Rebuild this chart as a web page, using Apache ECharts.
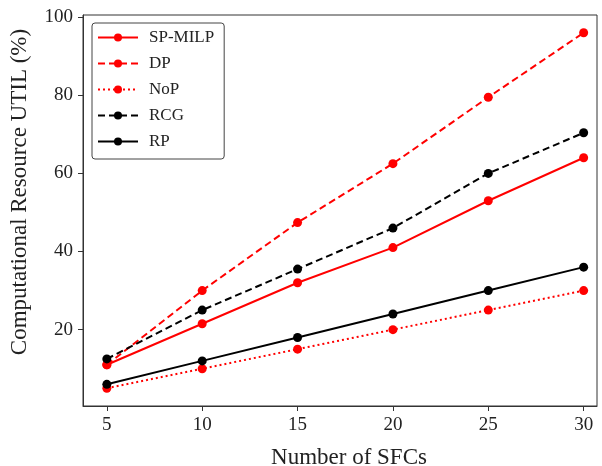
<!DOCTYPE html>
<html>
<head>
<meta charset="utf-8">
<script src="https://cdn.jsdelivr.net/npm/echarts@6/dist/echarts.min.js"></script>
<style>
  html, body { margin: 0; padding: 0; background: #fff; }
  #main { width: 602px; height: 466px; }
</style>
</head>
<body>
<div id="main"></div>
<script>
// x: number of SFCs
var sfcs = [5, 10, 15, 20, 25, 30];
// computational resource utilisation (%)
var spMilp = [11, 21.5, 32, 41, 53, 64];
var dp = [11, 30, 47.4, 62.5, 79.5, 96];
var noP = [5, 10, 15, 20, 25, 30];
var rcg = [12.5, 25, 35.5, 46, 60, 70.4];
var rp = [6, 12, 18, 24, 30, 36];
var xTicks = [5, 10, 15, 20, 25, 30];
var yTicks = [20, 40, 60, 80, 100];

function pairs(vals) {
    var out = [];
    for (var i = 0; i < sfcs.length; i++) {
        out.push([sfcs[i], vals[i]]);
    }
    return out;
}

var font = '"Liberation Serif", "DejaVu Serif", serif';

function mkSeries(name, vals, color, type) {
    return {
        name: name,
        type: 'line',
        data: pairs(vals),
        symbol: 'circle',
        symbolSize: 9,
        itemStyle: {color: color},
        lineStyle: {color: color, width: 2, type: type},
        emphasis: {disabled: true},
        animation: false
    };
}

var chart = echarts.init(document.getElementById('main'));
var option = {
    backgroundColor: '#fff',
    grid: {
        left: 83,
        right: 5,
        top: 15,
        bottom: 60,
        outerBoundsMode: 'none',
        show: true,
        borderColor: '#333',
        borderWidth: 1
    },
    legend: {
        orient: 'vertical',
        left: 92,
        top: 23,
        itemWidth: 40,
        itemHeight: 10,
        itemGap: 9,
        padding: [6, 10, 9, 5],
        borderColor: '#444',
        borderWidth: 1,
        borderRadius: 3,
        textStyle: {fontFamily: font, fontSize: 17, color: '#222', padding: [0, 0, 0, 6]},
        data: ['SP-MILP', 'DP', 'NoP', 'RCG', 'RP']
    },
    xAxis: {
        type: 'value',
        min: 3.75,
        max: 30.7,
        name: 'Number of SFCs',
        nameLocation: 'middle',
        nameGap: 40,
        nameTextStyle: {fontFamily: font, fontSize: 23, color: '#222', padding: [0, 0, 0, 18]},
        splitLine: {show: false},
        axisLine: {show: true, lineStyle: {color: '#333', width: 1}},
        axisTick: {show: true, customValues: xTicks, length: 5, lineStyle: {color: '#333'}},
        axisLabel: {customValues: xTicks, margin: 10, fontFamily: font, fontSize: 19, color: '#222'}
    },
    yAxis: {
        type: 'value',
        min: 0.45,
        max: 100.55,
        name: 'Computational Resource UTIL (%)',
        nameLocation: 'middle',
        nameGap: 52,
        nameTextStyle: {fontFamily: font, fontSize: 23, color: '#222', padding: [0, 0, 0, 37]},
        splitLine: {show: false},
        axisLine: {show: true, lineStyle: {color: '#333', width: 1}},
        axisTick: {show: true, customValues: yTicks, length: 5, lineStyle: {color: '#333'}},
        axisLabel: {customValues: yTicks, margin: 10, fontFamily: font, fontSize: 19, color: '#222'}
    },
    series: [
        mkSeries('SP-MILP', spMilp, '#ff0000', 'solid'),
        mkSeries('DP', dp, '#ff0000', [7, 4]),
        mkSeries('NoP', noP, '#ff0000', [2, 3]),
        mkSeries('RCG', rcg, '#000000', [7, 4]),
        mkSeries('RP', rp, '#000000', 'solid')
    ]
};
chart.setOption(option);
</script>
</body>
</html>
